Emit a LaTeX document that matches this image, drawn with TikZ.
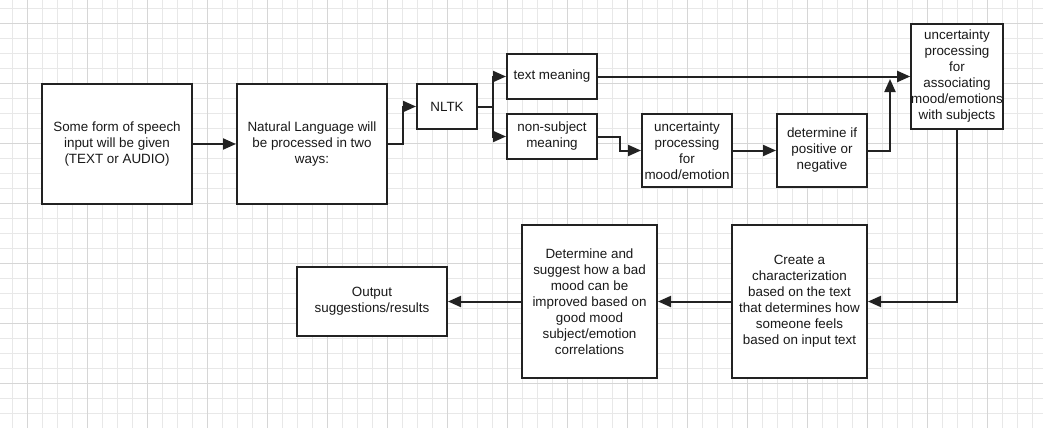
\documentclass[tikz,border=0pt]{standalone}
\usepackage{fontspec}
\setmainfont{Liberation Sans}
\usetikzlibrary{arrows.meta}
\definecolor{gridminor}{HTML}{E8E8E8}
\definecolor{gridmajor}{HTML}{D6D6D6}
\definecolor{inkline}{HTML}{222222}

\begin{document}
\begin{tikzpicture}[x=1pt,y=-1pt,
  box/.style={draw=inkline,line width=2pt,fill=white,align=center,inner sep=0pt,
    font=\fontsize{13.4}{16}\selectfont,text=black!90},
  arr/.style={draw=inkline,line width=2pt,-{Triangle[length=13pt,width=11pt]}}]
\useasboundingbox (0,0) rectangle (1043,428);
% grid paper
\foreach \gx in {12.3,27.3,...,1043} \draw[gridminor,line width=1pt] (\gx,0) -- (\gx,428);
\foreach \gy in {8.3,23.3,...,428} \draw[gridminor,line width=1pt] (0,\gy) -- (1043,\gy);
\foreach \gx in {27.3,87.3,...,1043} \draw[gridmajor,line width=1pt] (\gx,0) -- (\gx,428);
\foreach \gy in {23.3,83.3,...,428} \draw[gridmajor,line width=1pt] (0,\gy) -- (1043,\gy);
% boxes
\node[box,minimum width=150,minimum height=120] (speech) at (117,144) {Some form of speech\\input will be given\\(TEXT or AUDIO)};
\node[box,minimum width=150,minimum height=120] (natlang) at (312,144) {Natural Language will\\be processed in two\\ways:};
\node[box,minimum width=60,minimum height=45] (nltk) at (447,106.5) {NLTK};
\node[box,minimum width=90,minimum height=45] (textm) at (552,76.5) {text meaning};
\node[box,minimum width=90,minimum height=45] (nonsubj) at (552,136.5) {non-subject\\meaning};
\node[box,minimum width=90,minimum height=73] (uncmood) at (687,150.5) {uncertainty\\processing\\for\\mood/emotion};
\node[box,minimum width=90,minimum height=73] (posneg) at (822,150.5) {determine if\\positive or\\negative};
\node[box,minimum width=90,minimum height=105] (assoc) at (957,76.5) {uncertainty\\processing\\for\\associating\\mood/emotions\\with subjects};
\node[box,minimum width=135,minimum height=153] (charact) at (799.5,301.5) {Create a\\characterization\\based on the text\\that determines how\\someone feels\\based on input text};
\node[box,minimum width=135,minimum height=153] (suggest) at (589.5,301.5) {Determine and\\suggest how a bad\\mood can be\\improved based on\\good mood\\subject/emotion\\correlations};
\node[box,minimum width=150,minimum height=69] (output) at (372,301.5) {Output\\suggestions/results};
\coordinate (merge) at (890,79);
% connectors
\draw[arr] (speech) -- (natlang);
\draw[arr] (natlang.east) -- ++(15,0) |- (nltk.west);
\draw[arr] (nltk.east) -- ++(15,0) |- (textm.west);
\draw[arr] (nltk.east) -- ++(15,0) |- (nonsubj.west);
\draw[arr] (nonsubj.east) -- ++(22,0) |- (uncmood.west);
\draw[arr] (uncmood) -- (posneg);
\draw[arr] (posneg.east) -| (merge);
\draw[arr] (textm) -- (assoc);
\draw[arr] (assoc.south) |- (charact.east);
\draw[arr] (charact) -- (suggest);
\draw[arr] (suggest) -- (output);
\end{tikzpicture}
\end{document}
